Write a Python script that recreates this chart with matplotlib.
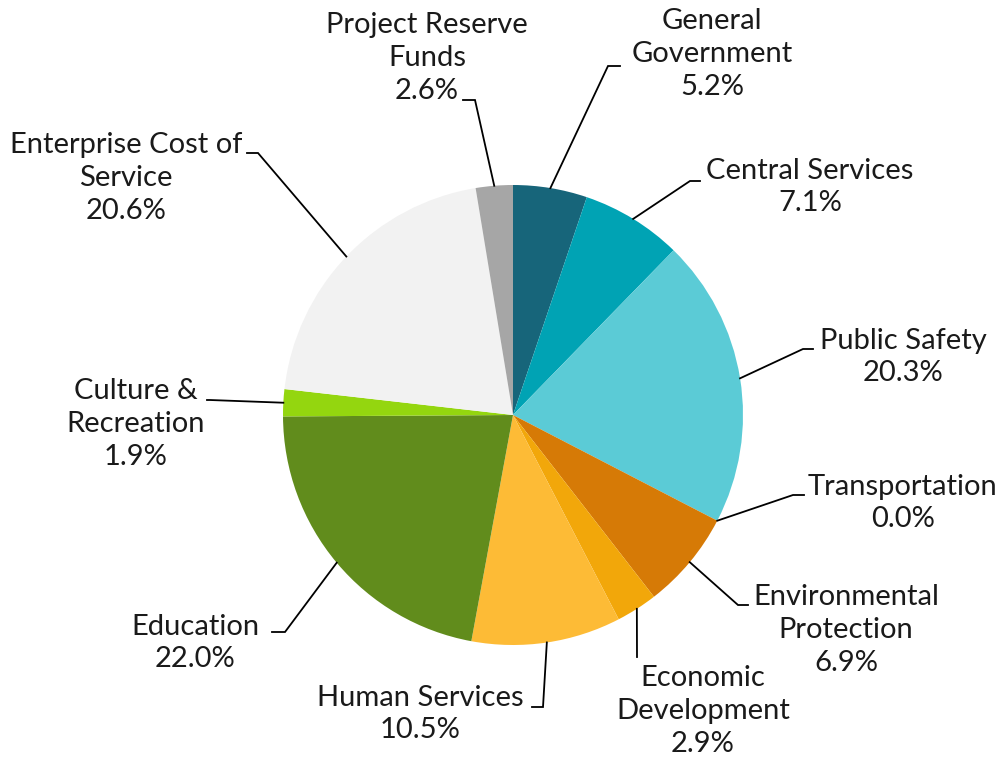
"""Budget allocation pie chart with leader-line labels."""

import numpy as np
import matplotlib

matplotlib.use("Agg")
import matplotlib.pyplot as plt

categories = [
    "General\nGovernment",
    "Central Services",
    "Public Safety",
    "Transportation",
    "Environmental\nProtection",
    "Economic\nDevelopment",
    "Human Services",
    "Education",
    "Culture &\nRecreation",
    "Enterprise Cost of\nService",
    "Project Reserve\nFunds",
]
shares = [5.2, 7.1, 20.3, 0.0, 6.9, 2.9, 10.5, 22.0, 1.9, 20.6, 2.6]
colors = [
    "#17657a", "#00a3b4", "#5bcbd6", "#2f8fa0", "#d67a06", "#f2a70a",
    "#fdbb36", "#618c1c", "#94d60f", "#f2f2f2", "#a6a6a6",
]

# layout in pixels (figure 1005x759): label centre, leader elbow, leader end
label_px = [(712, 54), (810, 187), (903, 357), (903, 503), (846, 630),
            (703, 711), (420, 714), (195, 643), (136, 424), (126, 178),
            (427, 58)]
elbow_px = [(608, 66), (690, 181), (803, 349), (793, 495), (738, 605),
            (637, 657), (543, 707), (285, 632), (210, 400), (258, 153),
            (475, 100)]
end_px = [(620, 66), (700, 181), (813, 349), (804, 495), (748, 605),
          (637, 657), (532, 707), (272, 632), (207, 400), (247, 153),
          (463, 100)]

W, H = 1005, 759
CX, CY, R = 513, 415, 230


def px(p):
    return ((p[0] - CX) / R, (CY - p[1]) / R)


plt.rcParams["font.family"] = ["Lato", "DejaVu Sans"]
fig = plt.figure(figsize=(W / 100, H / 100), dpi=100)
ax = fig.add_axes([0, 0, 1, 1])

ax.pie(shares, colors=colors, startangle=90, counterclock=False,
       radius=1, wedgeprops={"linewidth": 0})
ax.set_xlim(-CX / R, (W - CX) / R)
ax.set_ylim((CY - H) / R, CY / R)
ax.set_aspect("auto")
ax.axis("off")

total = sum(shares)
start = 0.0
for name, val, lab, elb, end in zip(categories, shares, label_px, elbow_px, end_px):
    mid = (start + val / 2) / total * 2 * np.pi
    start += val
    edge = (np.sin(mid), np.cos(mid))
    e = px(elb)
    t = px(end)
    ax.plot([edge[0], e[0], t[0]], [edge[1], e[1], t[1]], color="black",
            lw=1.3, solid_joinstyle="miter")
    lx, ly = px(lab)
    ax.text(lx, ly, f"{name}\n{val:.1f}%", ha="center", va="center",
            fontsize=21, color="#1a1a1a", linespacing=1.32)

fig.savefig("out.png", dpi=100)
